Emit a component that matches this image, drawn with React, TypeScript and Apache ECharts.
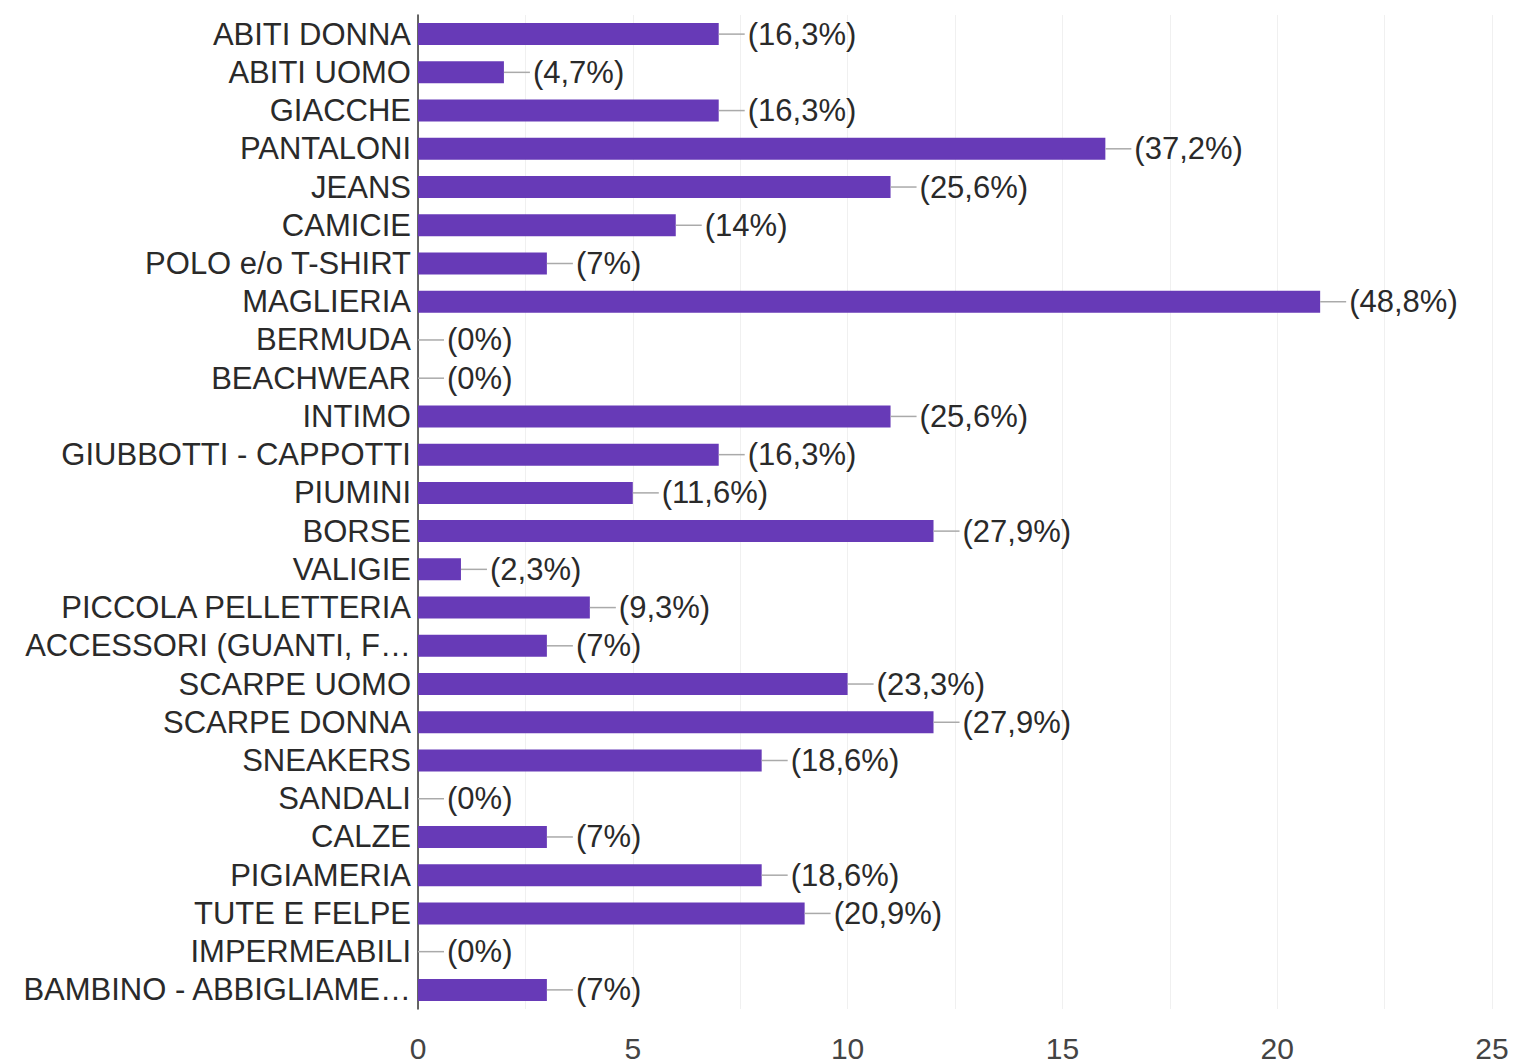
import React, { useEffect, useRef } from "react";
import * as echarts from "echarts";

const categories = [
  "ABITI DONNA", "ABITI UOMO", "GIACCHE", "PANTALONI", "JEANS", "CAMICIE",
  "POLO e/o T-SHIRT", "MAGLIERIA", "BERMUDA", "BEACHWEAR", "INTIMO",
  "GIUBBOTTI - CAPPOTTI", "PIUMINI", "BORSE", "VALIGIE", "PICCOLA PELLETTERIA",
  "ACCESSORI (GUANTI, F…", "SCARPE UOMO", "SCARPE DONNA", "SNEAKERS", "SANDALI",
  "CALZE", "PIGIAMERIA", "TUTE E FELPE", "IMPERMEABILI", "BAMBINO - ABBIGLIAME…",
];
const counts = [7, 2, 7, 16, 11, 6, 3, 21, 0, 0, 11, 7, 5, 12, 1, 4, 3, 10, 12, 8, 0, 3, 8, 9, 0, 3];
const percents = [
  "16,3%", "4,7%", "16,3%", "37,2%", "25,6%", "14%", "7%", "48,8%", "0%", "0%",
  "25,6%", "16,3%", "11,6%", "27,9%", "2,3%", "9,3%", "7%", "23,3%", "27,9%",
  "18,6%", "0%", "7%", "18,6%", "20,9%", "0%", "7%",
];
const xTicks = [0, 5, 10, 15, 20, 25];

export default function App() {
  const ref = useRef<HTMLDivElement>(null);
  useEffect(() => {
    if (!ref.current) return;
    const chart = echarts.init(ref.current, null, { renderer: "svg" });
    const font = "Arial, 'Liberation Sans', sans-serif";
    chart.setOption({
      animation: false,
      backgroundColor: "#ffffff",
      grid: { left: 418, right: 23, top: 15, bottom: 50, containLabel: false },
      xAxis: {
        type: "value",
        min: xTicks[0],
        max: xTicks[xTicks.length - 1],
        interval: 5,
        axisLine: { show: false },
        axisTick: { show: false },
        splitLine: { show: true, lineStyle: { color: "#f0f0f0", width: 1 } },
        minorTick: { show: false, splitNumber: 2 },
        minorSplitLine: { show: true, lineStyle: { color: "#f0f0f0", width: 1 } },
        axisLabel: { fontSize: 30, color: "#444", fontFamily: font, margin: 24 },
      },
      yAxis: {
        type: "category",
        data: categories,
        inverse: true,
        axisLine: { show: true, lineStyle: { color: "#333", width: 1.5 } },
        axisTick: { show: false },
        splitLine: { show: false },
        axisLabel: { interval: 0, fontSize: 31, color: "#2a2a2a", fontFamily: font, margin: 7 },
      },
      series: [
        {
          type: "bar",
          data: counts,
          barWidth: 22,
          itemStyle: { color: "#673ab7" },
          label: {
            show: true,
            position: "right",
            distance: 0,
            formatter: (p: any) => `{l|}{t|(${percents[p.dataIndex]})}`,
            rich: {
              l: { width: 26, height: 1.5, backgroundColor: "#aaaaaa" },
              t: { fontSize: 31, color: "#2a2a2a", fontFamily: font, padding: [0, 0, 0, 3] },
            },
          },
        },
      ],
    });
    return () => chart.dispose();
  }, []);
  return <div ref={ref} style={{ width: 1515, height: 1063, position: "absolute", left: 0, top: 0 }} />;
}
